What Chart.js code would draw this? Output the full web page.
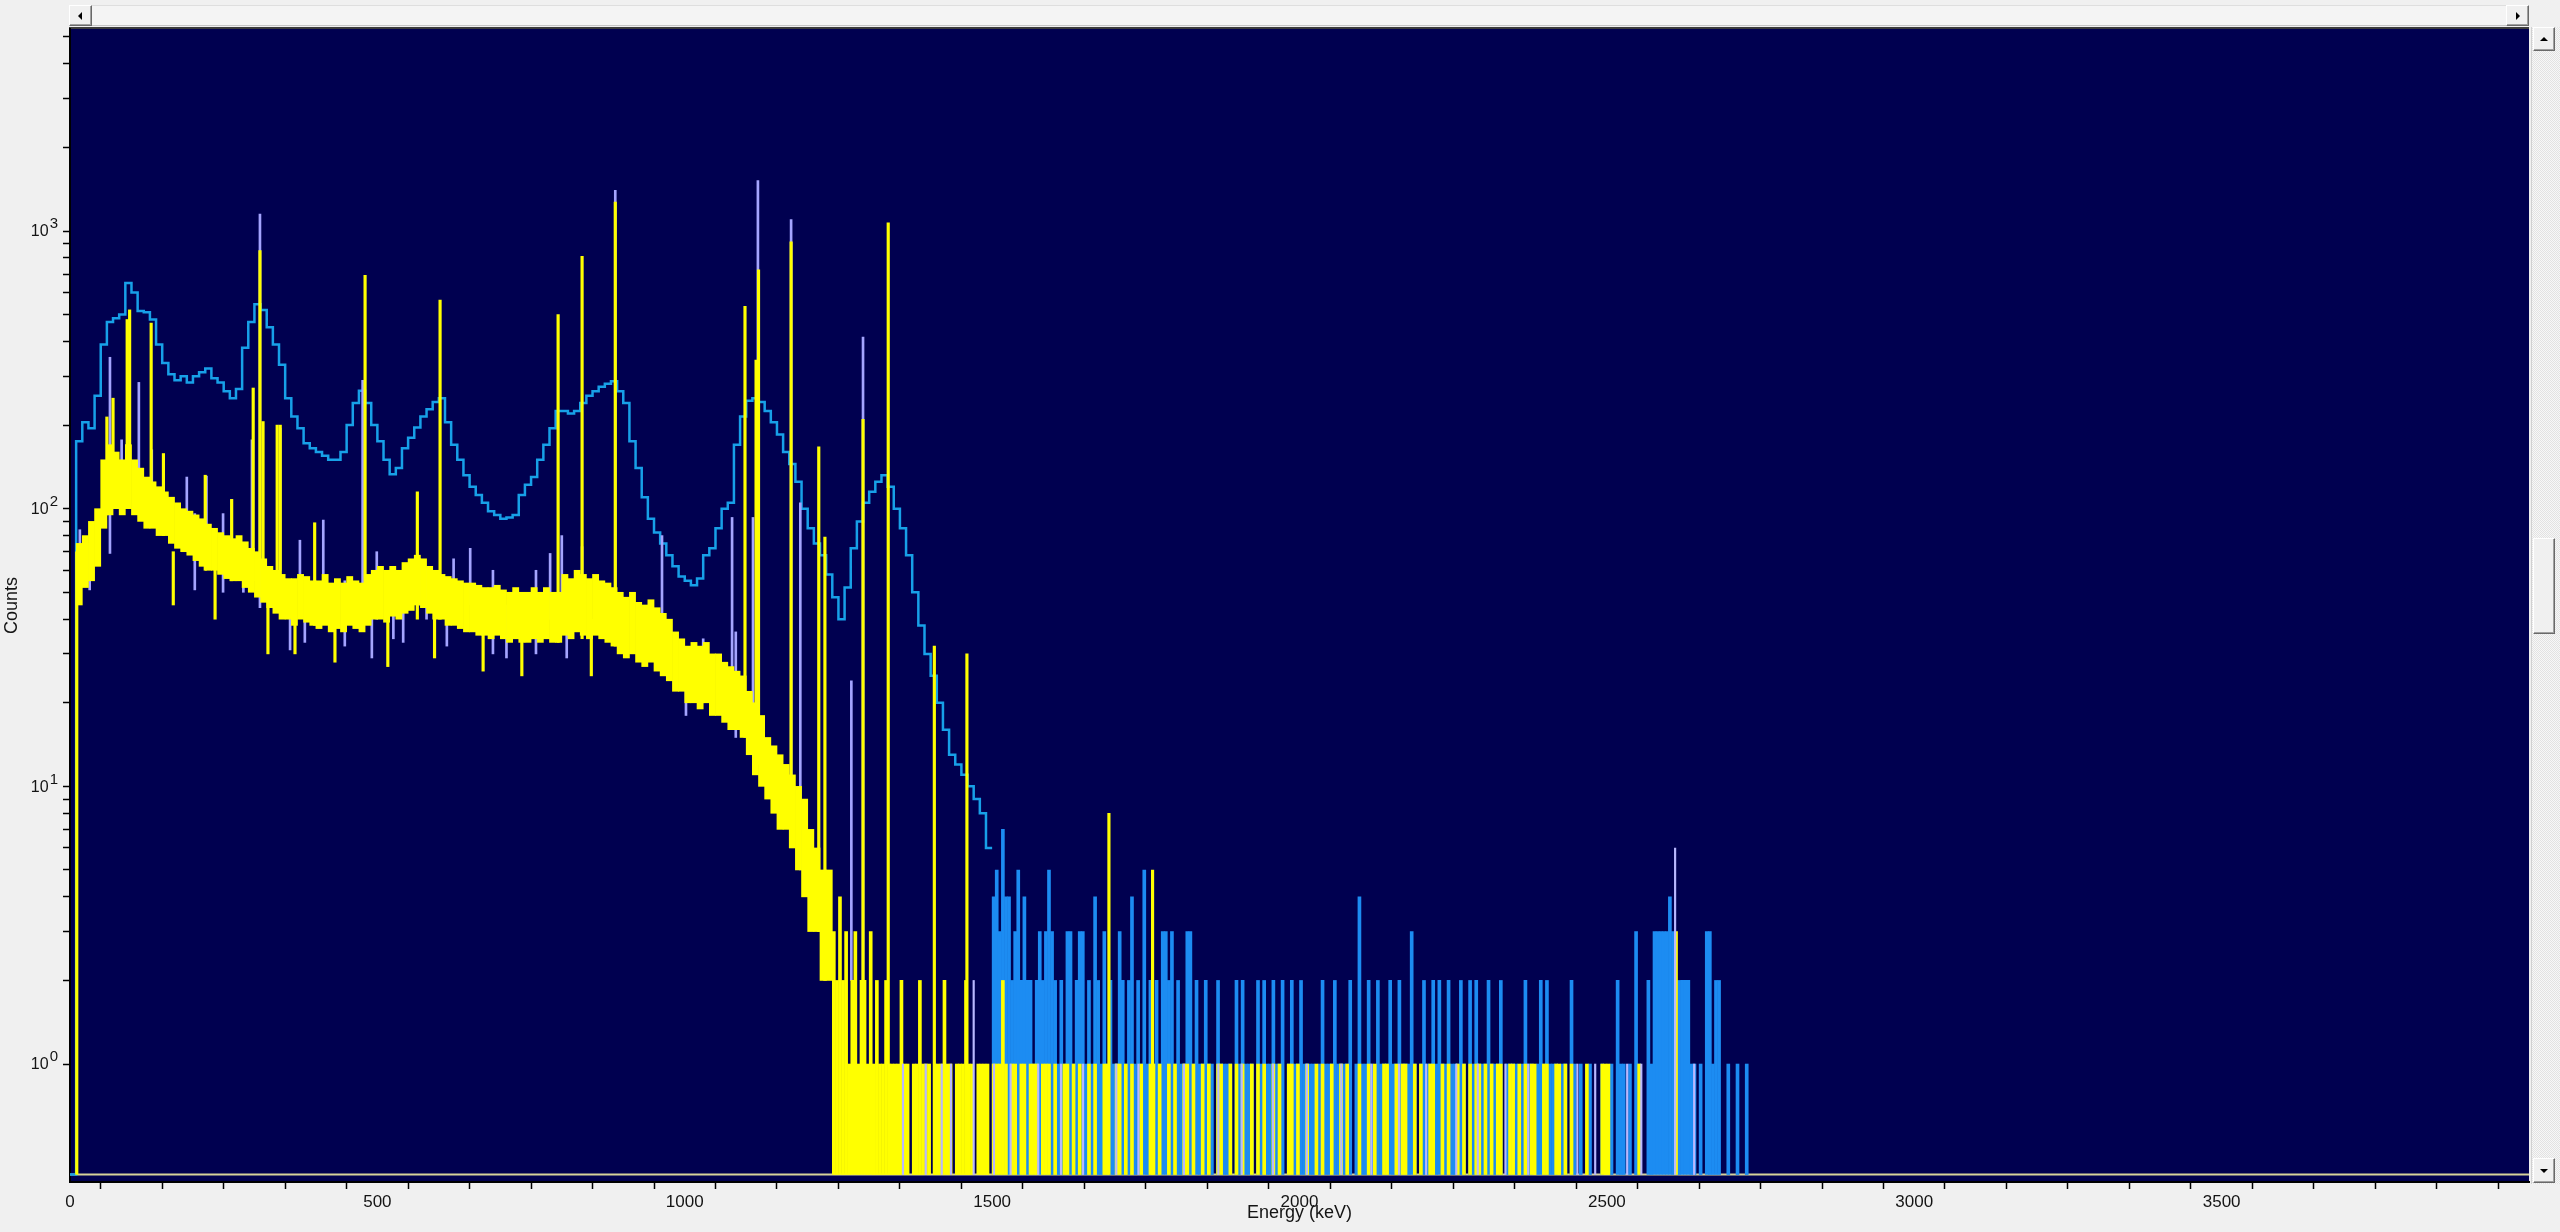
<!DOCTYPE html>
<html>
<head>
<meta charset="utf-8">
<script src="https://cdn.jsdelivr.net/npm/chart.js@4.4.1/dist/chart.umd.min.js"></script>
<style>
  html, body { margin: 0; padding: 0; width: 2560px; height: 1232px; overflow: hidden; background: #f0f0f0; }
  #plot { position: absolute; left: 0; top: 0; }
  .hscroll { position: absolute; left: 69px; top: 5px; width: 2460px; height: 21px; box-sizing: border-box;
             background: #f4f4f4; border-top: 1px solid #dedede; border-bottom: 1px solid #c4c4c4; }
  .vscroll { position: absolute; left: 2531px; top: 27px; width: 29px; height: 1157px;
             background: repeating-conic-gradient(#e2e2e2 0% 25%, #f7f7f7 0% 50%) 0 0 / 2px 2px;
             border-left: 1px solid #d0d0d0; box-sizing: border-box; }
  .btn { position: absolute; box-sizing: border-box; background: #f0f0f0;
         border-top: 1px solid #ffffff; border-left: 1px solid #ffffff;
         border-right: 1px solid #696969; border-bottom: 1px solid #696969;
         box-shadow: inset -1px -1px 0 #a0a0a0; }
  .tri { position: absolute; width: 0; height: 0; }
  .left  { border-top: 4px solid transparent; border-bottom: 4px solid transparent; border-right: 4px solid #000; }
  .right { border-top: 4px solid transparent; border-bottom: 4px solid transparent; border-left: 4px solid #000; }
  .up    { border-left: 4px solid transparent; border-right: 4px solid transparent; border-bottom: 4px solid #000; }
  .down  { border-left: 4px solid transparent; border-right: 4px solid transparent; border-top: 4px solid #000; }
</style>
</head>
<body>
<canvas id="plot" width="2560" height="1232"></canvas>

<div class="hscroll"></div>
<div class="btn" style="left:69px;top:5px;width:23px;height:21px;"><div class="tri left" style="left:8px;top:6px;"></div></div>
<div class="btn" style="left:2506px;top:5px;width:23px;height:21px;"><div class="tri right" style="left:9px;top:6px;"></div></div>

<div class="vscroll"></div>
<div class="btn" style="left:2533px;top:27px;width:22px;height:24px;"><div class="tri up" style="left:6px;top:9px;"></div></div>
<div class="btn" style="left:2533px;top:538px;width:22px;height:96px;"></div>
<div class="btn" style="left:2533px;top:1158px;width:22px;height:25px;"><div class="tri down" style="left:6px;top:10px;"></div></div>

<script>
// ---- axes ----
const energyRange = [0, 4000];          // keV
const countRange = [0.376, 5340];       // counts (log axis)
const zeroFloor = 0.4;                  // where empty channels sit on the log axis
const xTickLabels = ['0', '500', '1000', '1500', '2000', '2500', '3000', '3500'];
const yTickLabels = ['10^0', '10^1', '10^2', '10^3'];

// ---- broad-resolution spectrum (blue), 10 keV bins starting at 0 keV ----
const blueBinStart = 0;
const blueBinWidth = 10;
const blueCounts = [
  0, 175, 205, 195, 255, 390, 470, 485, 500, 650,
  600, 515, 510, 480, 390, 335, 305, 290, 300, 285,
  300, 310, 320, 295, 285, 265, 250, 270, 380, 470,
  545, 520, 450, 390, 330, 250, 215, 195, 172, 165,
  160, 155, 150, 150, 160, 200, 240, 266, 240, 200,
  175, 150, 133, 140, 165, 180, 196, 215, 228, 242,
  250, 205, 170, 150, 132, 120, 112, 105, 98, 95,
  92, 93, 95, 112, 122, 130, 150, 170, 195, 225,
  225, 220, 225, 240, 255, 265, 275, 282, 288, 265,
  240, 175, 140, 110, 92, 82, 75, 68, 62, 57,
  55, 53, 56, 68, 72, 85, 100, 105, 170, 215,
  245, 250, 242, 225, 205, 185, 160, 145, 125, 100,
  85, 75, 68, 58, 48, 40, 52, 72, 90, 105,
  115, 125, 132, 120, 100, 85, 68, 50, 38, 30,
  25, 20, 16, 13, 12, 11, 10, 9, 8, 6
];

// blue spectrum high-energy tail, 5 keV bins from 1500 keV
const blueTailStart = 1500;
const tailBinWidth = 5;
const blueTail = [
  4, 5, 3, 7, 4, 4, 2, 3, 5, 2,
  4, 2, 2, 1, 2, 3, 2, 3, 5, 3,
  2, 1, 2, 1, 3, 3, 1, 2, 3, 3,
  1, 2, 1, 4, 2, 1, 3, 1, 2, 1,
  1, 3, 2, 1, 2, 4, 1, 2, 1, 5,
  1, 2, 1, 2, 1, 3, 3, 2, 3, 1,
  2, 1, 1, 3, 3, 1, 2, 1, 1, 2,
  1, 1, 0, 2, 1, 1, 1, 1, 0, 2,
  1, 2, 1, 1, 1, 0, 2, 1, 2, 1,
  1, 2, 1, 1, 2, 0, 1, 2, 1, 1,
  2, 1, 1, 1, 1, 0, 1, 2, 1, 1,
  1, 2, 1, 1, 1, 1, 2, 0, 1, 4,
  1, 1, 2, 1, 0, 2, 1, 1, 1, 2,
  1, 1, 2, 1, 1, 1, 3, 1, 0, 1,
  2, 1, 1, 2, 1, 2, 1, 1, 2, 1,
  1, 1, 2, 1, 0, 2, 1, 2, 1, 1,
  1, 2, 1, 1, 1, 2, 0, 1, 1, 1,
  1, 0, 1, 2, 1, 1, 0, 1, 2, 1,
  2, 1, 1, 1, 0, 1, 1, 0, 2, 1,
  0, 1, 0, 0, 1, 0, 0, 0, 1, 0,
  0, 1, 0, 2, 1, 1, 0, 1, 0, 3,
  1, 0, 0, 2, 1, 3, 3, 3, 3, 3,
  4, 3, 1, 2, 2, 2, 2, 1, 1, 0,
  1, 0, 3, 3, 1, 2, 2, 0, 0, 1,
  0, 0, 1, 0, 0, 1
];

// ---- high-resolution spectrum (yellow) ----
// continuum spread (lowest / highest channel) per 10 keV bin from 10 keV
const yellowBandStart = 10;
const yellowLow = [
  45, 52, 55, 62, 85, 95, 100, 95, 100, 95,
  90, 85, 85, 80, 80, 75, 72, 70, 68, 65,
  62, 60, 60, 58, 56, 55, 55, 52, 50, 48,
  46, 44, 42, 40, 40, 38, 40, 39, 38, 37,
  38, 36, 37, 36, 38, 37, 36, 38, 40, 40,
  39, 41, 40, 42, 43, 45, 44, 42, 40, 40,
  38, 38, 37, 36, 36, 35, 35, 34, 35, 34,
  33, 34, 33, 33, 34, 33, 34, 33, 33, 35,
  34, 36, 35, 34, 35, 34, 33, 32, 30, 29,
  30, 28, 27, 28, 26, 25, 24, 22, 22, 20,
  20, 19, 20, 18, 18, 17, 16, 16, 15, 13,
  11, 10, 9, 8, 7, 7, 6, 5, 4, 3,
  3, 2, 2
];
const yellowHigh = [
  75, 80, 90, 100, 150, 170, 160, 150, 170, 150,
  140, 130, 125, 120, 115, 110, 105, 100, 98, 95,
  92, 88, 85, 82, 80, 78, 80, 76, 72, 70,
  66, 62, 60, 58, 56, 56, 58, 57, 55, 55,
  58, 54, 56, 54, 57, 55, 54, 58, 60, 62,
  60, 62, 60, 64, 66, 68, 66, 62, 60, 58,
  57, 56, 55, 54, 54, 53, 52, 52, 53, 51,
  50, 52, 50, 50, 52, 50, 52, 50, 50, 58,
  56, 60, 58, 56, 58, 55, 54, 52, 50, 48,
  50, 46, 45, 47, 44, 42, 40, 36, 34, 32,
  33, 32, 33, 30, 30, 28, 27, 26, 25, 22,
  20, 18, 15, 14, 13, 12, 11, 10, 9, 7,
  6, 5, 5
];
// peaks and single-channel excursions: [keV, low, high]
const yellowSpikes = [
  [11, 0, 70], [60, 95, 214], [70, 100, 250], [93, 150, 480], [97, 150, 520],
  [132, 110, 466], [152, 80, 158], [220, 60, 132], [263, 55, 108], [298, 55, 272],
  [309, 60, 850], [314, 55, 206], [337, 45, 200], [342, 45, 200], [398, 38, 89],
  [480, 40, 693], [565, 40, 115], [602, 40, 564], [794, 33, 500], [833, 34, 810],
  [887, 32, 1270], [1098, 15, 535], [1116, 12, 343], [1120, 12, 725], [1173, 7, 915],
  [1218, 3, 167], [1228, 2, 79], [1290, 1, 210], [1331, 1, 1070], [1406, 0, 32],
  [1459, 0, 30], [1690, 0, 8], [1761, 0, 5],
  [168, 45, 70], [236, 40, 66], [322, 30, 48], [366, 30, 46], [431, 28, 44],
  [517, 27, 42], [593, 29, 45], [672, 26, 40], [735, 25, 38], [848, 25, 40]
];
// yellow low-count tail, 5 keV bins from 1240 keV
const yellowTailStart = 1240;
const yellowTail = [
  3, 2, 4, 2, 3, 1, 2, 3, 1, 2,
  2, 1, 3, 1, 2, 1, 1, 2, 1, 1,
  1, 1, 2, 1, 1, 0, 1, 1, 2, 1,
  1, 1, 0, 1, 1, 1, 2, 1, 1, 0,
  1, 1, 1, 2, 1, 1, 0, 1, 1, 1,
  1, 0, 1, 1, 1, 2, 1, 0, 1, 1,
  0, 1, 1, 0, 1, 1, 1, 0, 1, 1,
  1, 0, 1, 0, 0, 1, 1, 0, 1, 0,
  1, 0, 0, 1, 0, 1, 0, 0, 1, 1,
  0, 0, 1, 1, 0, 1, 0, 1, 0, 0,
  1, 0, 0, 1, 1, 0, 1, 0, 0, 1,
  0, 1, 0, 0, 1, 1, 0, 1, 0, 0,
  1, 0, 1, 0, 0, 1, 1, 0, 0, 1,
  0, 1, 0, 1, 0, 0, 1, 0, 1, 0,
  1, 0, 0, 1, 0, 1, 0, 0, 1, 1,
  0, 1, 0, 0, 1, 0, 0, 1, 0, 1,
  0, 0, 1, 0, 0, 1, 0, 1, 0, 0,
  0, 1, 0, 0, 1, 0, 1, 0, 0, 1,
  1, 0, 0, 1, 0, 1, 1, 0, 0, 1,
  0, 1, 0, 0, 1, 1, 0, 0, 1, 0,
  1, 0, 0, 1, 0, 1, 0, 1, 0, 1,
  1, 0, 1, 0, 1, 0, 1, 1, 0, 0,
  1, 1, 0, 1, 0, 1, 0, 1, 1, 0,
  0, 1, 1, 0, 0, 1, 1, 0, 1, 0,
  1, 0, 0, 0, 0, 1, 0, 0, 0, 0,
  1, 1, 1, 0, 0, 0, 0, 0, 0, 0,
  0, 0, 1, 0, 0, 0, 0, 0, 0, 0,
  0, 0, 0, 0, 3, 0, 0, 0, 0, 0,
  0, 0, 0, 0, 0, 0, 0, 0, 0, 0,
  0, 0, 0, 0, 0, 0
];

// ---- second high-resolution spectrum (lavender): [keV, low, high] ----
const lavenderSpikes = [
  [16, 51, 84], [32, 51, 75], [65, 69, 351], [84, 100, 177], [92, 110, 170],
  [112, 120, 285], [133, 95, 163], [190, 96, 130], [203, 51, 96], [222, 80, 131],
  [249, 50, 96], [263, 70, 108], [282, 50, 69], [296, 60, 177], [309, 44, 1150],
  [342, 60, 195], [358, 31, 40], [374, 50, 77], [382, 33, 45], [412, 50, 91],
  [447, 32, 55], [476, 40, 290], [491, 29, 45], [499, 40, 70], [526, 34, 50],
  [542, 33, 50], [569, 45, 66], [580, 40, 61], [613, 32, 50], [624, 45, 66],
  [651, 45, 72], [688, 30, 60], [710, 29, 45], [758, 30, 60], [781, 40, 69],
  [800, 40, 80], [808, 29, 45], [833, 40, 73], [887, 40, 1400], [963, 30, 80],
  [1002, 18, 26], [1030, 20, 34], [1077, 20, 93], [1083, 15, 36], [1111, 15, 93],
  [1119, 15, 1520], [1173, 8, 1100], [1188, 5, 105], [1271, 2, 24], [1290, 2, 415]
];
// lavender low-count channels: [keV, counts]
const lavenderTail = [
  [1355, 1], [1392, 1], [1418, 1], [1433, 1], [1470, 2], [1503, 1], [1530, 1],
  [1575, 1], [1612, 1], [1648, 1], [1702, 1], [1738, 1], [1812, 1], [1868, 1],
  [1906, 1], [1957, 1], [2012, 1], [2068, 1], [2117, 1], [2162, 1], [2206, 1],
  [2255, 1], [2290, 1], [2335, 1], [2372, 1], [2452, 1], [2481, 1], [2533, 1],
  [2556, 1], [2611, 6], [2642, 1]
];

// ---- build library data ----
const onLog = c => (c > 0 ? c : zeroFloor);

const blueLineData = blueCounts.map((c, i) => ({ x: blueBinStart + i * blueBinWidth, y: onLog(c) }));
blueLineData.push({ x: blueBinStart + blueCounts.length * blueBinWidth, y: onLog(blueCounts[blueCounts.length - 1]) });

const tailBars = (start, counts) => counts
  .map((c, i) => ({ x: start + i * tailBinWidth + tailBinWidth / 2, y: [zeroFloor, c] }))
  .filter(p => p.y[1] > 0);

const rangeBars = list => list.map(([e, lo, hi]) => ({ x: e, y: [onLog(lo), hi] }));

const yellowBandData = yellowLow.map((lo, i) => ({
  x: yellowBandStart + i * 10 + 5, y: [lo, yellowHigh[i]]
}));

const floorData = [{ x: energyRange[0], y: zeroFloor }, { x: energyRange[1], y: zeroFloor }];

// tick positions
const xTickValues = [];
for (let v = energyRange[0]; v < energyRange[1]; v += 100) xTickValues.push(v);
const yTickValues = [];
[1, 10, 100, 1000].forEach(d => { for (let m = 1; m <= 9; m++) if (d * m <= 5000) yTickValues.push(d * m); });

const bar = (data, color, thickness, order) => ({
  type: 'bar', data, backgroundColor: color, borderWidth: 0,
  barThickness: thickness, grouped: false, order
});

const plotBackground = {
  id: 'plotBackground',
  beforeDraw(chart) {
    const { ctx, chartArea: { left, top, right, bottom } } = chart;
    ctx.save();
    ctx.fillStyle = '#000050';
    ctx.fillRect(left, top, right - left, bottom - top);
    ctx.fillStyle = '#3c3c3c';
    ctx.fillRect(left - 1, top - 2, right - left + 1, 2);
    ctx.restore();
  }
};

// decade labels written as base with a raised exponent
const decadeLabels = {
  id: 'decadeLabels',
  afterDraw(chart) {
    const { ctx } = chart;
    const y = chart.scales.y;
    const right = y.right - 12;
    ctx.save();
    ctx.fillStyle = '#141414';
    ctx.textBaseline = 'middle';
    yTickLabels.forEach(label => {
      const [base, exp] = label.split('^');
      const py = y.getPixelForValue(Math.pow(Number(base), Number(exp)));
      ctx.font = "15px 'Liberation Sans', sans-serif";
      ctx.textAlign = 'right';
      const ew = ctx.measureText(exp).width;
      ctx.fillText(exp, right, py - 7);
      ctx.font = "16px 'Liberation Sans', sans-serif";
      ctx.fillText(base, right - ew - 1, py + 1);
    });
    ctx.restore();
  }
};

const labelFont = "'Liberation Sans Narrow', 'Liberation Sans', 'DejaVu Sans', sans-serif";

new Chart(document.getElementById('plot'), {
  type: 'line',
  data: {
    datasets: [
      { type: 'line', data: floorData, borderColor: '#d6d29a', borderWidth: 2, pointRadius: 0, order: 100 },
      { type: 'line', data: blueLineData, borderColor: '#17a0e8', borderWidth: 2.5, pointRadius: 0,
        stepped: 'before', fill: false, order: 90 },
      bar(tailBars(blueTailStart, blueTail), '#1c8cf2', 3, 85),
      bar(rangeBars(lavenderSpikes), '#a4a4ff', 2, 80),
      bar(yellowBandData, '#ffff00', 6.2, 70),
      bar(rangeBars(yellowSpikes), '#ffff00', 2.5, 65),
      bar(tailBars(yellowTailStart, yellowTail), '#ffff00', 3, 60),
      bar(lavenderTail.map(([e, c]) => ({ x: e, y: [zeroFloor, c] })), '#b8b8ff', 1.5, 55)
    ]
  },
  options: {
    responsive: false,
    animation: false,
    devicePixelRatio: 1,
    layout: { padding: { top: 29, right: 31, left: 0, bottom: 0 } },
    plugins: { legend: { display: false }, tooltip: { enabled: false } },
    scales: {
      x: {
        type: 'linear', min: energyRange[0], max: energyRange[1], offset: false,
        afterFit: s => { s.height = 50; },
        afterBuildTicks: s => { s.ticks = xTickValues.map(v => ({ value: v })); },
        ticks: {
          autoSkip: false, maxRotation: 0, minRotation: 0, padding: 3, color: '#141414',
          font: { family: labelFont, size: 17 },
          callback: v => (v % 500 === 0 ? xTickLabels[v / 500] : '')
        },
        grid: { display: true, drawOnChartArea: false, drawTicks: true, tickLength: 7, tickColor: '#000', tickWidth: 1.5 },
        border: { display: true, color: '#000', width: 2 },
        title: { display: true, text: 'Energy (keV)', color: '#141414',
                 font: { family: "'Liberation Sans', sans-serif", size: 18 }, padding: { top: 0, bottom: 8 } }
      },
      y: {
        type: 'logarithmic', min: countRange[0], max: countRange[1],
        afterFit: s => { s.width = 70; },
        afterBuildTicks: s => { s.ticks = yTickValues.map(v => ({ value: v })); },
        ticks: { autoSkip: false, padding: 5, callback: () => '' },
        grid: { display: true, drawOnChartArea: false, drawTicks: true, tickLength: 7, tickColor: '#000', tickWidth: 1.5 },
        border: { display: true, color: '#000', width: 2 },
        title: { display: true, text: 'Counts', color: '#141414',
                 font: { family: "'Liberation Sans', sans-serif", size: 18 }, padding: { top: 1 } }
      }
    }
  },
  plugins: [plotBackground, decadeLabels]
});
</script>
</body>
</html>
